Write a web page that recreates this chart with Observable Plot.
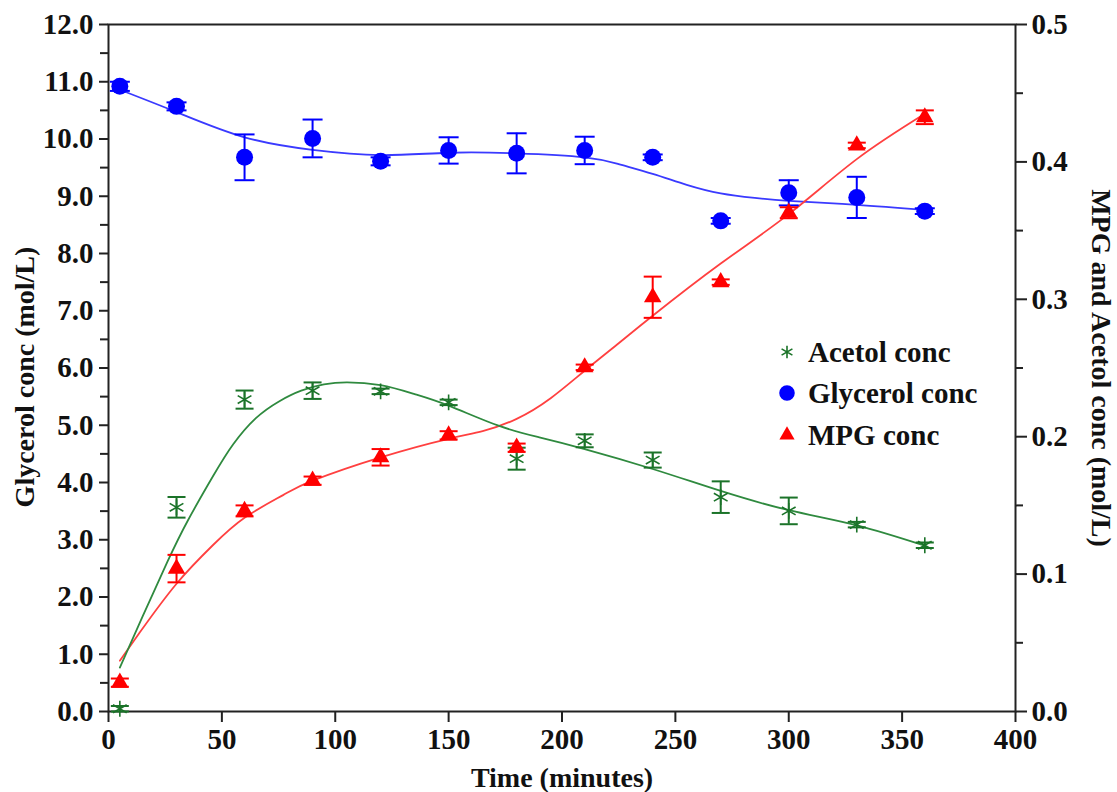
<!DOCTYPE html>
<html>
<head>
<meta charset="utf-8">
<script src="https://cdn.jsdelivr.net/npm/d3@7"></script>
<script src="https://cdn.jsdelivr.net/npm/@observablehq/plot@0.6"></script>
<style>
  html, body { margin: 0; padding: 0; background: #fff; }
  #wrap { position: relative; width: 1117px; height: 792px; }
  .legend-row {
    position: absolute; left: 776px; height: 40px; line-height: 40px;
    display: flex; align-items: center; white-space: nowrap;
    font-family: "Liberation Serif", "Times New Roman", serif;
    font-weight: bold; font-size: 29px; color: #111;
  }
  .legend-row svg { width: 22px; height: 22px; margin-right: 10px; }
</style>
</head>
<body>
<div id="wrap"></div>
<script>
// Sampling times (minutes)
const time = [5, 30, 60, 90, 120, 150, 180, 210, 240, 270, 300, 330, 360];

// Glycerol concentration (mol/L, left axis) with standard deviation
const glycerol    = [10.92, 10.57, 9.68, 10.01, 9.61, 9.80, 9.75, 9.80, 9.68, 8.57, 9.06, 8.98, 8.74];
const glycerolErr = [0.08, 0.07, 0.40, 0.33, 0.07, 0.23, 0.35, 0.24, 0.05, 0.05, 0.22, 0.36, 0.05];

// MPG concentration (mol/L, right axis) with standard deviation
const mpg    = [0.021, 0.104, 0.146, 0.168, 0.185, 0.201, 0.192, 0.2505, 0.3015, 0.3125, 0.363, 0.412, 0.4325];
const mpgErr = [0.003, 0.010, 0.004, 0.003, 0.006, 0.003, 0.003, 0.002, 0.015, 0.002, 0.004, 0.002, 0.005];

// Acetol concentration (mol/L, right axis) with standard deviation
const acetol    = [0.002, 0.1486, 0.227, 0.2335, 0.233, 0.225, 0.184, 0.197, 0.183, 0.156, 0.146, 0.136, 0.121];
const acetolErr = [0.002, 0.0075, 0.0066, 0.006, 0.002, 0.002, 0.008, 0.0047, 0.0055, 0.0115, 0.0097, 0.002, 0.002];

// Fitted trend curves
const glycerolFitT = [5, 30, 60, 90, 120, 150, 180, 210, 225, 240, 255, 270, 285, 300, 330, 360];
const glycerolFit  = [10.86, 10.47, 10.03, 9.81, 9.72, 9.76, 9.75, 9.68, 9.56, 9.39, 9.20, 9.05, 8.97, 8.92, 8.85, 8.76];

const mpgFitT = [5, 14, 30, 46, 60, 77, 90, 120, 150, 165, 180, 195, 210, 225, 240, 270, 300, 330, 360];
const mpgFit  = [0.037, 0.058, 0.093, 0.121, 0.141, 0.1575, 0.168, 0.185, 0.1985, 0.204, 0.213, 0.228, 0.248, 0.268, 0.288, 0.326, 0.362, 0.402, 0.435];

const acetolFitT = [5, 15, 26, 35, 46, 55, 65, 75, 85, 95, 105, 120, 135, 150, 172, 190, 210, 240, 270, 300, 330, 360];
const acetolFit  = [0.032, 0.069, 0.109, 0.139, 0.171, 0.1945, 0.2135, 0.2255, 0.2335, 0.238, 0.2396, 0.2375, 0.231, 0.2226, 0.208, 0.1995, 0.191, 0.1765, 0.1605, 0.1465, 0.1355, 0.1207];

// Axis ticks
const xTicks = [0, 50, 100, 150, 200, 250, 300, 350, 400];
const leftTicks = [0, 1, 2, 3, 4, 5, 6, 7, 8, 9, 10, 11, 12];
const leftMinor = [0.5, 1.5, 2.5, 3.5, 4.5, 5.5, 6.5, 7.5, 8.5, 9.5, 10.5, 11.5];
const rightTicks = [0, 0.1, 0.2, 0.3, 0.4, 0.5];
const rightMinor = [0.05, 0.15, 0.25, 0.35, 0.45];

// The right axis (0–0.5) shares the frame with the left axis (0–12)
const k = 12 / 0.5;
const toLeft = v => v * k;

const colors = { glycerol: "#0000ff", mpg: "#ff0000", acetol: "#1b7329" };
const curveColors = { glycerol: "#3a3aff", mpg: "#ff4040", acetol: "#2f8a3f" };

function rows(values, errs, scale) {
  return time.map((t, i) => ({
    t,
    v: scale(values[i]),
    lo: scale(values[i] - errs[i]),
    hi: scale(values[i] + errs[i])
  }));
}
const ident = v => v;
const glyRows = rows(glycerol, glycerolErr, ident);
const mpgRows = rows(mpg, mpgErr, toLeft);
const aceRows = rows(acetol, acetolErr, toLeft);

const fit = (ts, vs, scale) => ts.map((t, i) => ({ t, v: scale(vs[i]) }));

// Horizontal cap for error bars
const cap = hw => ({ draw(ctx) { ctx.moveTo(-hw, 0); ctx.lineTo(hw, 0); } });

function errorMarks(data, color, hw) {
  return [
    Plot.ruleX(data, { x: "t", y1: "lo", y2: "hi", stroke: color, strokeWidth: 2 }),
    Plot.dot(data, { x: "t", y: "hi", symbol: cap(hw), fill: "none", stroke: color, strokeWidth: 2 }),
    Plot.dot(data, { x: "t", y: "lo", symbol: cap(hw), fill: "none", stroke: color, strokeWidth: 2 })
  ];
}

const font = "'Liberation Serif', 'Times New Roman', serif";
const title = { fontSize: 28, fontWeight: "bold", fill: "#111", textAnchor: "middle", lineAnchor: "middle" };

const chart = Plot.plot({
  width: 1117,
  height: 792,
  marginLeft: 108,
  marginRight: 102,
  marginTop: 24,
  marginBottom: 81,
  style: { fontFamily: font, fontWeight: "bold", fontSize: "29px", color: "#111", background: "white" },
  x: { domain: [0, 400] },
  y: { domain: [0, 12] },
  marks: [
    // axes
    Plot.axisX({ ticks: xTicks, tickFormat: d => String(d), tickSize: 11, tickPadding: 6, label: null, fontSize: 29, stroke: "#222", strokeWidth: 2 }),
    Plot.axisY({ ticks: leftTicks, tickFormat: d => d.toFixed(1), tickSize: 9, tickPadding: 6, label: null, fontSize: 29, stroke: "#222", strokeWidth: 2 }),
    Plot.axisY({ ticks: leftMinor, tickFormat: () => "", tickSize: 8, label: null, stroke: "#222", strokeWidth: 2 }),
    Plot.axisY({ anchor: "right", ticks: rightTicks.map(toLeft), tickFormat: d => (d / k).toFixed(1), tickSize: 11, tickPadding: 5, label: null, fontSize: 29, stroke: "#222", strokeWidth: 2 }),
    Plot.axisY({ anchor: "right", ticks: rightMinor.map(toLeft), tickFormat: () => "", tickSize: 7, label: null, stroke: "#222", strokeWidth: 2 }),
    Plot.frame({ stroke: "#222", strokeWidth: 2 }),

    // axis titles
    Plot.text(["Time (minutes)"], { ...title, frameAnchor: "bottom", dy: 67 }),
    Plot.text(["Glycerol conc (mol/L)"], { ...title, frameAnchor: "left", dx: -83, dy: 9, rotate: -90 }),
    Plot.text(["MPG and Acetol conc (mol/L)"], { ...title, frameAnchor: "right", dx: 85, rotate: 90 }),

    // fitted curves
    Plot.line(fit(glycerolFitT, glycerolFit, ident), { x: "t", y: "v", curve: "natural", stroke: curveColors.glycerol, strokeWidth: 1.8 }),
    Plot.line(fit(mpgFitT, mpgFit, toLeft), { x: "t", y: "v", curve: "natural", stroke: curveColors.mpg, strokeWidth: 1.8 }),
    Plot.line(fit(acetolFitT, acetolFit, toLeft), { x: "t", y: "v", curve: "natural", stroke: curveColors.acetol, strokeWidth: 1.8 }),

    // error bars
    ...errorMarks(glyRows, colors.glycerol, 10),
    ...errorMarks(mpgRows, colors.mpg, 9),
    ...errorMarks(aceRows, colors.acetol, 9),

    // observations
    Plot.dot(aceRows, { x: "t", y: "v", symbol: "asterisk", r: 7.5, stroke: colors.acetol, strokeWidth: 1.6 }),
    Plot.dot(glyRows, { x: "t", y: "v", symbol: "circle", r: 8.5, fill: colors.glycerol, stroke: "none" }),
    Plot.dot(mpgRows, { x: "t", y: "v", symbol: "triangle", r: 6.5, fill: colors.mpg, stroke: "none" })
  ]
});

const wrap = document.getElementById("wrap");
wrap.appendChild(chart);

// Legend
const legendItems = [
  { label: "Acetol conc", symbol: d3.symbolAsterisk, size: 110, color: colors.acetol, stroke: true, top: 332 },
  { label: "Glycerol conc", symbol: d3.symbolCircle, size: 190, color: colors.glycerol, stroke: false, top: 373 },
  { label: "MPG conc", symbol: d3.symbolTriangle, size: 100, color: colors.mpg, stroke: false, top: 415 }
];
for (const item of legendItems) {
  const row = document.createElement("div");
  row.className = "legend-row";
  row.style.top = item.top + "px";
  const svg = d3.create("svg").attr("viewBox", "-11 -11 22 22");
  svg.append("path")
    .attr("d", d3.symbol(item.symbol, item.size)())
    .attr("fill", item.stroke ? "none" : item.color)
    .attr("stroke", item.stroke ? item.color : "none")
    .attr("stroke-width", 1.6);
  row.appendChild(svg.node());
  const span = document.createElement("span");
  span.textContent = item.label;
  row.appendChild(span);
  wrap.appendChild(row);
}
</script>
</body>
</html>
